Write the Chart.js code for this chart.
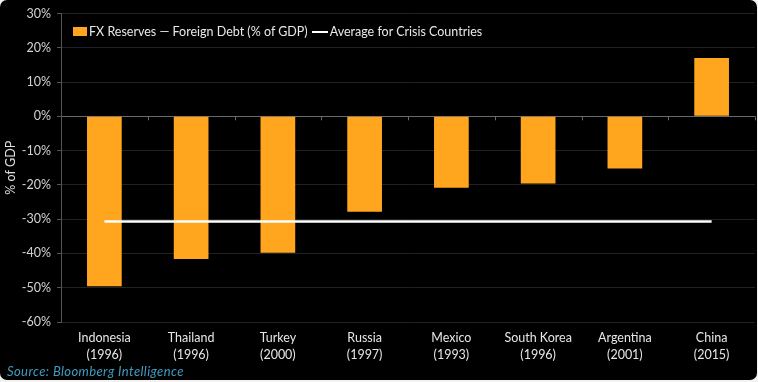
<!DOCTYPE html>
<html>
<head>
<meta charset="utf-8">
<script src="https://cdn.jsdelivr.net/npm/chart.js@4/dist/chart.umd.min.js"></script>
<style>
  html, body { margin: 0; padding: 0; background: #f2f2f2; }
  #frame { position: absolute; left: 0; top: 0; width: 757px; height: 380px; background: #000; border-radius: 7px; overflow: hidden; }
  #wrap { position: absolute; left: 0; top: 0; width: 757px; height: 380px; }
  #legend { position: absolute; left: 73px; top: 24px; font-family: Lato, "Open Sans", sans-serif; font-size: 12.5px; color: #e8e8e8; display: flex; align-items: center; white-space: nowrap; }
  .box { display: inline-block; width: 14px; height: 9px; background: #FFA51E; margin-right: 2px; }
  .ln { display: inline-block; width: 16px; height: 2px; background: #fff; margin: 0 2px 0 4px; }
  #source { position: absolute; left: 7px; top: 363px; font-family: Lato, "Open Sans", sans-serif; font-style: italic; font-size: 13px; letter-spacing: 0.4px; color: #3f9cc0; }
</style>
</head>
<body>
<div id="frame">
  <div id="wrap"><canvas id="c" width="757" height="380"></canvas></div>
  <div id="legend"><span class="box"></span><span>FX Reserves — Foreign Debt (% of GDP)</span><span class="ln"></span><span>Average for Crisis Countries</span></div>
  <div id="source">Source: Bloomberg Intelligence</div>
</div>
<script>
const countries = ['Indonesia', 'Thailand', 'Turkey', 'Russia', 'Mexico', 'South Korea', 'Argentina', 'China'];
const years = ['(1996)', '(1996)', '(2000)', '(1997)', '(1993)', '(1996)', '(2001)', '(2015)'];
const fxMinusDebt = [-49.6, -41.6, -39.8, -27.8, -20.8, -19.6, -15.2, 17.0];
const crisisAverage = [-30.7, -30.7, -30.7, -30.7, -30.7, -30.7, -30.7, -30.7];
const yTicks = [30, 20, 10, 0, -10, -20, -30, -40, -50, -60];

const labels = countries.map((c, i) => [c, years[i]]);
const FONT = 'Lato, "Open Sans", sans-serif';

const zeroTicks = {
  id: 'zeroTicks',
  afterDatasetsDraw(chart) {
    const x = chart.scales.x, y = chart.scales.y, ctx = chart.ctx;
    const y0 = y.getPixelForValue(0);
    const step = x.getPixelForValue(1) - x.getPixelForValue(0);
    ctx.save();
    ctx.strokeStyle = '#6a6a6a';
    ctx.lineWidth = 1;
    for (let i = 0; i < countries.length; i++) {
      const px = Math.round(x.getPixelForValue(i) + step / 2) + 0.5;
      ctx.beginPath();
      ctx.moveTo(px, y0);
      ctx.lineTo(px, y0 + 4);
      ctx.stroke();
    }
    ctx.restore();
  }
};

new Chart(document.getElementById('c'), {
  data: {
    labels: labels,
    datasets: [
      {
        type: 'line',
        label: 'Average for Crisis Countries',
        data: crisisAverage,
        borderColor: '#ffffff',
        borderWidth: 2.5,
        pointRadius: 0,
        order: 0
      },
      {
        type: 'bar',
        label: 'FX Reserves — Foreign Debt (% of GDP)',
        data: fxMinusDebt,
        backgroundColor: '#FFA51E',
        borderColor: '#FFA51E',
        borderWidth: 0,
        barPercentage: 0.8,
        categoryPercentage: 0.5,
        order: 1
      }
    ]
  },
  plugins: [zeroTicks],
  options: {
    responsive: false,
    animation: false,
    layout: { padding: { top: 9, right: 2, bottom: 18, left: 0 } },
    plugins: { legend: { display: false }, tooltip: { enabled: false } },
    scales: {
      x: {
        offset: true,
        grid: { display: false, drawTicks: false },
        border: { display: false },
        ticks: { color: '#e6e6e6', font: { family: FONT, size: 12.5, lineHeight: 1.4 }, padding: 7, maxRotation: 0, autoSkip: false },
        afterFit(s) { s.height = 40; }
      },
      y: {
        min: -60, max: 30,
        afterBuildTicks(s) { s.ticks = yTicks.map(v => ({ value: v })); },
        ticks: { color: '#d4d4d4', font: { family: FONT, size: 12.5 }, padding: 6, callback: v => v + '%' },
        grid: {
          color: ctx => (ctx.tick && ctx.tick.value === 0) ? '#6a6a6a' : '#222222',
          tickColor: '#555555',
          tickLength: 4,
          lineWidth: 1
        },
        border: { display: true, color: '#555555' },
        title: { display: true, text: '% of GDP', color: '#e0e0e0', font: { family: FONT, size: 12.5 }, padding: 3 },
        afterFit(s) { s.width = 61; }
      }
    }
  }
});
</script>
</body>
</html>
